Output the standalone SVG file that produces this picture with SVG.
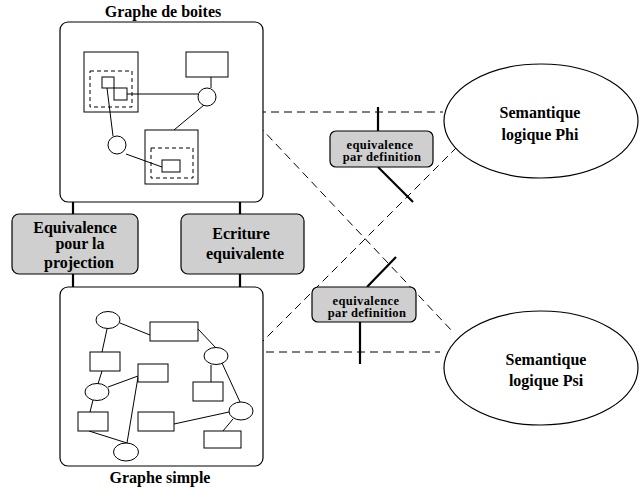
<svg xmlns="http://www.w3.org/2000/svg" width="639" height="493" viewBox="0 0 639 493">
  <style>
    .frame { fill: #fff; stroke: #000; stroke-width: 1.2; }
    .thin { fill: none; stroke: #000; stroke-width: 1; }
    .box { fill: #fff; stroke: #000; stroke-width: 1; }
    .dash { fill: none; stroke: #000; stroke-width: 1; stroke-dasharray: 4 3; }
    .label { fill: #cfcfcf; stroke: #000; stroke-width: 1.2; }
    .thick { fill: none; stroke: #000; stroke-width: 2.2; }
    .link { fill: none; stroke: #000; stroke-width: 1; stroke-dasharray: 8 5; }
    .t { font-family: "Liberation Serif", "Times New Roman", serif; font-weight: bold; fill: #000; text-anchor: middle; }
    .big { font-size: 16px; }
    .small { font-size: 12.5px; letter-spacing: 0.4px; }
  </style>

  <!-- dashed semantic links -->
  <g id="connectors">
    <line class="link" x1="258" y1="112" x2="443" y2="112"/>
    <line class="link" x1="258" y1="125" x2="453" y2="332"/>
    <line class="link" x1="457" y1="147" x2="257" y2="347"/>
    <line class="link" x1="253" y1="352" x2="440" y2="352"/>
    <!-- solid attachment strokes -->
    <line class="thick" x1="73" y1="190" x2="73" y2="214"/>
    <line class="thick" x1="240" y1="190" x2="240" y2="214"/>
    <line class="thick" x1="73" y1="274" x2="73" y2="303"/>
    <line class="thick" x1="240" y1="274" x2="240" y2="303"/>
    <line class="thick" x1="378" y1="107" x2="378" y2="131"/>
    <line class="thick" x1="378" y1="167" x2="413" y2="202"/>
    <line class="thick" x1="367" y1="287" x2="396" y2="257"/>
    <line class="thick" x1="360" y1="322" x2="360" y2="364"/>
  </g>

  <!-- box graph -->
  <g id="graphe-boites">
    <rect class="frame" x="60" y="22" width="203" height="180" rx="8"/>
    <text class="t big" x="163" y="17">Graphe de boites</text>
    <rect class="box" x="84" y="52" width="54" height="60"/>
    <rect class="dash" x="90" y="71" width="42" height="36"/>
    <rect class="box" x="102" y="77" width="12" height="11"/>
    <rect class="box" x="114" y="88" width="13" height="12"/>
    <rect class="box" x="186" y="52" width="42" height="25"/>
    <line class="thin" x1="211" y1="77" x2="211" y2="88"/>
    <line class="thin" x1="127" y1="94" x2="198" y2="94"/>
    <circle class="box" cx="207" cy="97" r="9"/>
    <line class="thin" x1="204" y1="105" x2="174" y2="130"/>
    <rect class="box" x="145" y="130" width="53" height="54"/>
    <rect class="dash" x="151" y="148" width="42" height="30"/>
    <rect class="box" x="162" y="160" width="18" height="12"/>
    <line class="thin" x1="107" y1="88" x2="113" y2="136"/>
    <circle class="box" cx="117" cy="145" r="9"/>
    <line class="thin" x1="126" y1="154" x2="162" y2="167"/>
  </g>

  <!-- simple graph -->
  <g id="graphe-simple">
    <rect class="frame" x="60" y="287" width="203" height="179" rx="8"/>
    <text class="t big" x="160" y="483">Graphe simple</text>
    <line class="thin" x1="120" y1="323" x2="150" y2="335"/>
    <line class="thin" x1="198" y1="329" x2="216" y2="348"/>
    <line class="thin" x1="107" y1="329" x2="102" y2="352"/>
    <line class="thin" x1="102" y1="371" x2="98" y2="384"/>
    <line class="thin" x1="108" y1="387" x2="138" y2="376"/>
    <line class="thin" x1="211" y1="365" x2="211" y2="382"/>
    <line class="thin" x1="93" y1="400" x2="90" y2="412"/>
    <line class="thin" x1="222" y1="363" x2="240" y2="402"/>
    <line class="thin" x1="174" y1="424" x2="229" y2="412"/>
    <line class="thin" x1="233" y1="419" x2="223" y2="431"/>
    <line class="thin" x1="89" y1="431" x2="127" y2="443"/>
    <line class="thin" x1="138" y1="377" x2="127" y2="443"/>
    <ellipse class="box" cx="108" cy="320" rx="12" ry="8.5"/>
    <rect class="box" x="150" y="322" width="48" height="19"/>
    <ellipse class="box" cx="216" cy="356" rx="12" ry="8.5"/>
    <rect class="box" x="90" y="352" width="30" height="19"/>
    <rect class="box" x="138" y="364" width="30" height="18"/>
    <ellipse class="box" cx="97" cy="392" rx="12" ry="8.5"/>
    <rect class="box" x="193" y="382" width="30" height="19"/>
    <rect class="box" x="78" y="412" width="30" height="19"/>
    <rect class="box" x="138" y="412" width="36" height="19"/>
    <ellipse class="box" cx="241" cy="411" rx="12" ry="9"/>
    <rect class="box" x="204" y="431" width="37" height="17"/>
    <ellipse class="box" cx="126" cy="452" rx="12.5" ry="9"/>
  </g>

  <!-- transformation labels -->
  <g id="equivalence-projection">
    <rect class="label" x="12" y="214" width="126" height="60" rx="7"/>
    <text class="t big" x="75" y="233">Equivalence</text>
    <text class="t big" x="80" y="249">pour la</text>
    <text class="t big" x="79" y="268">projection</text>
  </g>
  <g id="ecriture-equivalente">
    <rect class="label" x="181" y="214" width="123" height="60" rx="7"/>
    <text class="t big" x="241" y="239">Ecriture</text>
    <text class="t big" x="245" y="259">equivalente</text>
  </g>

  <g id="equivalence-phi">
    <rect class="label" x="330" y="131" width="103" height="36" rx="6"/>
    <text class="t small" x="380" y="148.5">equivalence</text>
    <text class="t small" x="382" y="161">par definition</text>
  </g>
  <g id="equivalence-psi">
    <rect class="label" x="312" y="287" width="104" height="35" rx="6"/>
    <text class="t small" x="366" y="304.5">equivalence</text>
    <text class="t small" x="367" y="317">par definition</text>
  </g>

  <!-- semantics -->
  <g id="semantique-phi">
    <ellipse class="frame" cx="541" cy="121" rx="97" ry="57"/>
    <text class="t big" x="540" y="118">Semantique</text>
    <text class="t big" x="540" y="140">logique Phi</text>
  </g>
  <g id="semantique-psi">
    <ellipse class="frame" cx="541" cy="368" rx="97" ry="57"/>
    <text class="t big" x="546" y="365">Semantique</text>
    <text class="t big" x="546" y="386">logique Psi</text>
  </g>
</svg>
